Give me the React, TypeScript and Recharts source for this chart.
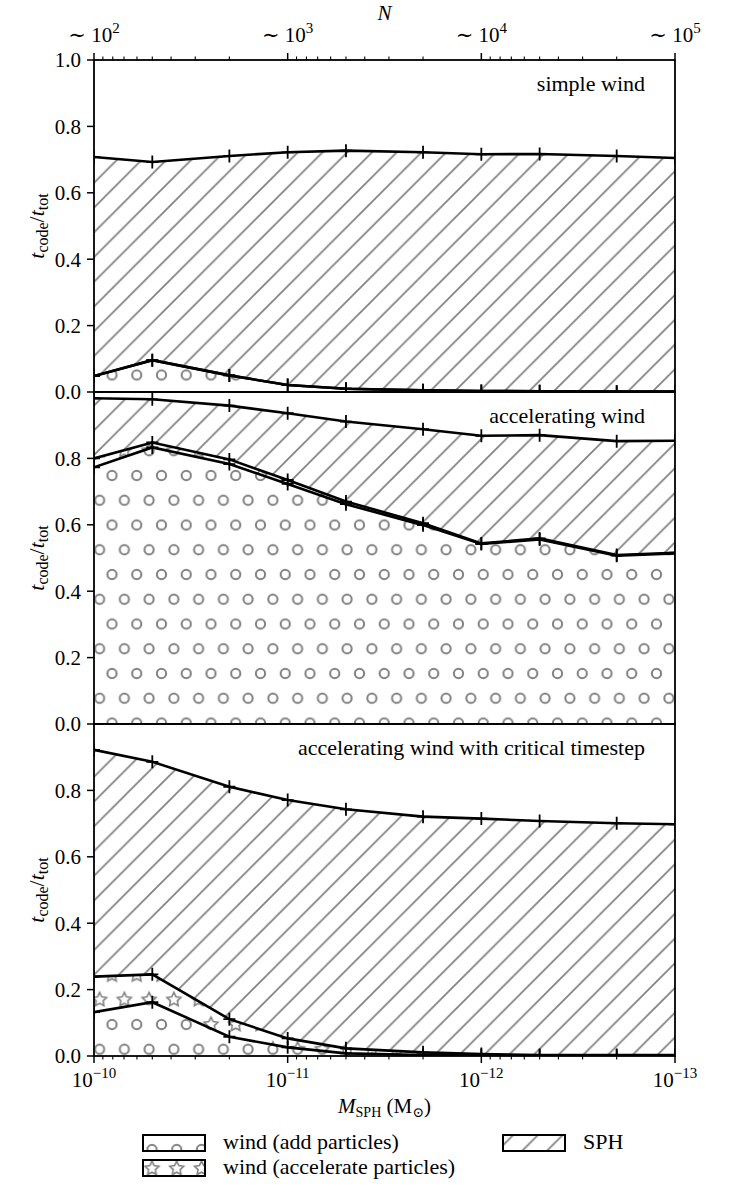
import React from 'react';
import { ComposedChart, Area, Line, XAxis, YAxis } from 'recharts';

// Mass of one SPH particle (solar masses) for each run, heaviest first
const particleMasses = [1e-10, 5e-11, 2e-11, 1e-11, 5e-12, 2e-12, 1e-12, 5e-13, 2e-13, 1e-13];

// Fraction of the total runtime spent in each part of the code
const simpleWindAdd = [0.048, 0.096, 0.05, 0.021, 0.01, 0.005, 0.003, 0.002, 0.001, 0.001];
const simpleWindAccelerate = [0, 0, 0, 0, 0, 0, 0, 0, 0, 0];
const simpleSph = [0.66, 0.597, 0.661, 0.701, 0.717, 0.717, 0.713, 0.715, 0.71, 0.704];

const accelWindAdd = [0.773, 0.833, 0.783, 0.723, 0.662, 0.599, 0.542, 0.556, 0.507, 0.514];
const accelWindAccelerate = [0.027, 0.015, 0.014, 0.012, 0.008, 0.006, 0.002, 0.003, 0.002, 0.002];
const accelSph = [0.181, 0.13, 0.162, 0.201, 0.241, 0.283, 0.324, 0.311, 0.343, 0.337];

const criticalWindAdd = [0.132, 0.162, 0.058, 0.026, 0.008, 0.003, 0.002, 0.001, 0.001, 0.001];
const criticalWindAccelerate = [0.107, 0.084, 0.053, 0.027, 0.015, 0.008, 0.004, 0.002, 0.002, 0.002];
const criticalSph = [0.683, 0.64, 0.7, 0.718, 0.72, 0.71, 0.709, 0.705, 0.698, 0.695];

const panelTitles = ['simple wind', 'accelerating wind', 'accelerating wind with critical timestep'];

// Axis ticks
const massMajorTicks = [1e-10, 1e-11, 1e-12, 1e-13];
const massTickExponents = ['\u221210', '\u221211', '\u221212', '\u221213'];
const particleCountExponents = ['2', '3', '4', '5'];
const fractionTicksFull = [0, 0.2, 0.4, 0.6, 0.8, 1.0];
const fractionTicksLower = [0, 0.2, 0.4, 0.6, 0.8];

const legendItems = [
  { label: 'wind (add particles)', fill: 'circles', col: 0, row: 0 },
  { label: 'wind (accelerate particles)', fill: 'stars', col: 0, row: 1 },
  { label: 'SPH', fill: 'hatch', col: 1, row: 0 },
];

// ---------- layout ----------
const FONT = "'Liberation Serif', 'DejaVu Serif', serif";
const W = 750;
const PLOT_LEFT = 94;
const PLOT_RIGHT = 675;
const PLOT_H = 332;
const PLOT_TOPS = [60, 392, 724];
const CHART_TOPS = [0, 364, 696];
const CHART_PAD = 28; // room above/below each plot box inside its own svg
const GRAY = '#808080';
const CELL = 24.75;

// log-scale minor ticks between the labelled decades
const massMinorTicks: number[] = [];
for (let e = -13; e <= -11; e++) {
  for (let k = 2; k <= 9; k++) massMinorTicks.push(k * Math.pow(10, e));
}
const massAllTicks = [...massMajorTicks, ...massMinorTicks];

const majorIndex = (v: number) =>
  massMajorTicks.findIndex((t) => Math.abs(Math.log10(t) - Math.log10(v)) < 1e-6);

function buildRows(add: number[], acc: number[], sph: number[]) {
  return particleMasses.map((m, i) => ({
    m,
    add: add[i],
    acc: acc[i],
    sph: sph[i],
    cumAdd: add[i],
    cumAcc: add[i] + acc[i],
    total: add[i] + acc[i] + sph[i],
  }));
}

const panelRows = [
  buildRows(simpleWindAdd, simpleWindAccelerate, simpleSph),
  buildRows(accelWindAdd, accelWindAccelerate, accelSph),
  buildRows(criticalWindAdd, criticalWindAccelerate, criticalSph),
];

function starPath(cx: number, cy: number, r: number) {
  const pts: string[] = [];
  for (let k = 0; k < 10; k++) {
    const rad = k % 2 === 0 ? r : r * 0.5;
    const a = -Math.PI / 2 + (k * Math.PI) / 5;
    pts.push(`${(cx + rad * Math.cos(a)).toFixed(2)},${(cy + rad * Math.sin(a)).toFixed(2)}`);
  }
  return `M${pts.join('L')}Z`;
}

// Hatch fills: staggered small circles, staggered open stars, and '/' lines
function Patterns({
  suffix,
  sx,
  sy,
  hx,
  starY,
}: {
  suffix: string;
  sx: number;
  sy: number;
  hx: number;
  starY?: number;
}) {
  const h = CELL;
  const centers = [
    [h / 2, h / 2],
    [0, 1.5 * h],
    [h, 1.5 * h],
  ];
  return (
    <defs>
      <pattern id={`circles-${suffix}`} patternUnits="userSpaceOnUse" x={sx} y={sy} width={h} height={2 * h}>
        {centers.map(([cx, cy], i) => (
          <circle key={i} cx={cx} cy={cy} r={4.6} fill="none" stroke={GRAY} strokeWidth={2} />
        ))}
      </pattern>
      <pattern
        id={`stars-${suffix}`}
        patternUnits="userSpaceOnUse"
        x={sx}
        y={starY ?? sy}
        width={h}
        height={2 * h}
      >
        {centers.map(([cx, cy], i) => (
          <path key={i} d={starPath(cx, cy, 7.3)} fill="none" stroke={GRAY} strokeWidth={1.6} strokeLinejoin="miter" />
        ))}
      </pattern>
      <pattern id={`hatch-${suffix}`} patternUnits="userSpaceOnUse" x={hx} y={0} width={h} height={h}>
        <path
          d={`M0,${h} L${h},0 M-3,3 L3,-3 M${h - 3},${h + 3} L${h + 3},${h - 3}`}
          stroke={GRAY}
          strokeWidth={1.7}
          fill="none"
        />
      </pattern>
    </defs>
  );
}

const renderPlus = (props: any) => {
  const { cx, cy, index } = props;
  if (cx == null || cy == null) return <g key={`plus-${index}`} />;
  return (
    <path
      key={`plus-${index}`}
      d={`M${cx - 6},${cy}H${cx + 6}M${cx},${cy - 6.5}V${cy + 6.5}`}
      stroke="#000"
      strokeWidth={1.8}
      fill="none"
    />
  );
};

const BottomTick = (props: any) => {
  const { x, y, payload } = props;
  const mi = majorIndex(payload.value);
  const major = mi >= 0;
  return (
    <g>
      <line x1={x} x2={x} y1={y} y2={y + (major ? 7 : 3.5)} stroke="#000" strokeWidth={major ? 1.5 : 1.1} />
      {major && (
        <text x={x} y={y + 31} textAnchor="middle" fontFamily={FONT} fontSize={21} fill="#000">
          10
          <tspan dy={-9} fontSize={15}>
            {massTickExponents[mi]}
          </tspan>
        </text>
      )}
    </g>
  );
};

const TopTick = (props: any) => {
  const { x, y, payload } = props;
  const mi = majorIndex(payload.value);
  const major = mi >= 0;
  return (
    <g>
      <line x1={x} x2={x} y1={y} y2={y - (major ? 7 : 3.5)} stroke="#000" strokeWidth={major ? 1.5 : 1.1} />
      {major && (
        <text x={x} y={y - 18} textAnchor="middle" fontFamily={FONT} fontSize={21} fill="#000">
          {'\u223C 10'}
          <tspan dy={-9} fontSize={15}>
            {particleCountExponents[mi]}
          </tspan>
        </text>
      )}
    </g>
  );
};

function Panel({ index }: { index: number }) {
  const rows = panelRows[index];
  const chartTop = CHART_TOPS[index];
  const plotTopLocal = PLOT_TOPS[index] - chartTop;
  const isFirst = index === 0;
  const isLast = index === 2;
  const topAxisH = isFirst ? 50 : 0;
  const bottomAxisH = isLast ? 60 : 0;
  const height = isLast ? 1200 - chartTop : plotTopLocal + PLOT_H + CHART_PAD;
  const marginTop = plotTopLocal - topAxisH;
  const marginBottom = height - plotTopLocal - PLOT_H - bottomAxisH;
  const suffix = `p${index}`;

  // pattern anchors for the staggered shape rows and the hatch lines
  const shapeRowY = [375, 723, 1024.5][index];
  const sx = 112 - CELL / 2;
  const sy = shapeRowY - chartTop - CELL / 2;
  const hx = (((4.6 - chartTop) % CELL) + CELL) % CELL;

  return (
    <div style={{ position: 'absolute', left: 0, top: chartTop }}>
      <ComposedChart
        width={W}
        height={height}
        data={rows}
        margin={{ top: marginTop, right: W - PLOT_RIGHT, bottom: marginBottom, left: PLOT_LEFT - 60 }}
      >
        <Patterns suffix={suffix} sx={sx} sy={sy} hx={hx} />
        <XAxis
          dataKey="m"
          type="number"
          scale="log"
          domain={[1e-13, 1e-10]}
          reversed
          allowDataOverflow
          orientation={isFirst ? 'top' : 'bottom'}
          hide={!isFirst && !isLast}
          height={isFirst ? topAxisH : bottomAxisH}
          ticks={massAllTicks}
          interval={0}
          tickLine={false}
          axisLine={false}
          tickSize={0}
          tickMargin={0}
          tick={isFirst ? (p: any) => <TopTick {...p} /> : (p: any) => <BottomTick {...p} />}
        />
        <YAxis
          type="number"
          domain={[0, 1]}
          allowDataOverflow
          ticks={isFirst ? fractionTicksFull : fractionTicksLower}
          interval={0}
          width={60}
          tickSize={7}
          tickMargin={6}
          axisLine={false}
          tickLine={{ stroke: '#000', strokeWidth: 1.5 }}
          tick={{ fill: '#000', fontSize: 21, fontFamily: FONT }}
          tickFormatter={(v: number) => v.toFixed(1)}
        />
        <Area
          type="linear"
          dataKey="add"
          stackId="t"
          fill={`url(#circles-${suffix})`}
          fillOpacity={1}
          stroke="none"
          dot={false}
          activeDot={false}
          isAnimationActive={false}
        />
        <Area
          type="linear"
          dataKey="acc"
          stackId="t"
          fill={`url(#stars-${suffix})`}
          fillOpacity={1}
          stroke="none"
          dot={false}
          activeDot={false}
          isAnimationActive={false}
        />
        <Area
          type="linear"
          dataKey="sph"
          stackId="t"
          fill={`url(#hatch-${suffix})`}
          fillOpacity={1}
          stroke="none"
          dot={false}
          activeDot={false}
          isAnimationActive={false}
        />
        {['cumAdd', 'cumAcc', 'total'].map((k) => (
          <Line
            key={k}
            type="linear"
            dataKey={k}
            stroke="#000"
            strokeWidth={2.6}
            dot={renderPlus}
            activeDot={false}
            isAnimationActive={false}
          />
        ))}
      </ComposedChart>
    </div>
  );
}

function FractionLabel({ cy }: { cy: number }) {
  return (
    <text
      x={0}
      y={0}
      transform={`translate(44 ${cy}) rotate(-90)`}
      textAnchor="middle"
      fontFamily={FONT}
      fontSize={22}
      fill="#000"
    >
      <tspan fontStyle="italic">t</tspan>
      <tspan fontSize={16} dy={4}>
        code
      </tspan>
      <tspan dy={-4}>/</tspan>
      <tspan fontStyle="italic">t</tspan>
      <tspan fontSize={16} dy={4}>
        tot
      </tspan>
    </text>
  );
}

function Overlay() {
  const legendX = [143, 503];
  const legendY = [1135, 1160];
  const boxW = 62;
  const boxH = 16;
  return (
    <svg
      width={W}
      height={1200}
      style={{ position: 'absolute', left: 0, top: 0, pointerEvents: 'none' }}
    >
      <Patterns
        suffix="legend"
        sx={152 - CELL / 2}
        sy={1149.5 - CELL / 2}
        hx={14.75}
        starY={1168.5 - CELL / 2}
      />
      {PLOT_TOPS.map((t, i) => (
        <g key={i}>
          <rect
            x={PLOT_LEFT}
            y={t}
            width={PLOT_RIGHT - PLOT_LEFT}
            height={PLOT_H}
            fill="none"
            stroke="#000"
            strokeWidth={1.8}
          />
          <text
            x={PLOT_RIGHT - 30}
            y={t + 31}
            textAnchor="end"
            fontFamily={FONT}
            fontSize={22}
            fill="#000"
          >
            {panelTitles[i]}
          </text>
          <FractionLabel cy={t + PLOT_H / 2} />
        </g>
      ))}
      <text x={(PLOT_LEFT + PLOT_RIGHT) / 2} y={20} textAnchor="middle" fontFamily={FONT} fontSize={21} fontStyle="italic" fill="#000">
        N
      </text>
      <text x={(PLOT_LEFT + PLOT_RIGHT) / 2} y={1113} textAnchor="middle" fontFamily={FONT} fontSize={21} fill="#000">
        <tspan fontStyle="italic">M</tspan>
        <tspan fontSize={14} dy={4}>
          SPH
        </tspan>
        <tspan dy={-4}>{' (M'}</tspan>
        <tspan fontSize={14} dy={4}>
          {'\u2299'}
        </tspan>
        <tspan dy={-4}>)</tspan>
      </text>
      {legendItems.map((it, i) => {
        const x = legendX[it.col];
        const y = legendY[it.row];
        return (
          <g key={i}>
            <rect x={x} y={y} width={boxW} height={boxH} fill={`url(#${it.fill}-legend)`} stroke="#000" strokeWidth={2} />
            <text x={x + boxW + 18} y={y + 14} fontFamily={FONT} fontSize={22} fill="#000">
              {it.label}
            </text>
          </g>
        );
      })}
    </svg>
  );
}

export default function App() {
  return (
    <div style={{ position: 'absolute', left: 0, top: 0, width: W, height: 1200, background: '#fff' }}>
      {[0, 1, 2].map((i) => (
        <Panel key={i} index={i} />
      ))}
      <Overlay />
    </div>
  );
}
